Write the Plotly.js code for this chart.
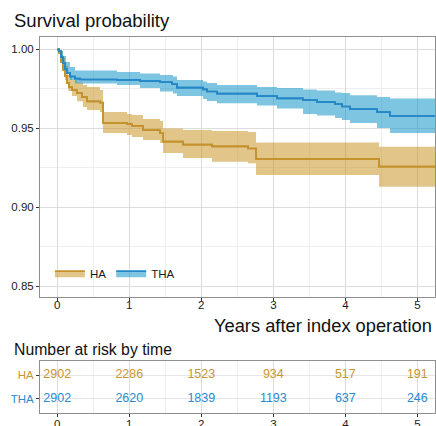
<!DOCTYPE html>
<html>
<head>
<meta charset="utf-8">
<script src="https://cdn.plot.ly/plotly-3.0.1.min.js"></script>
<style>html,body{margin:0;padding:0;background:#fff;}#chart{width:436px;height:426px;}</style>
</head>
<body>
<div id="chart"></div>
<script>
// ---- Data ----
const groups = ["HA", "THA"];

// HA survival step curve
const haTime = [0, 0.024, 0.051, 0.079, 0.107, 0.135, 0.163, 0.204, 0.274, 0.343, 0.413, 0.593, 0.635, 0.968, 1.038, 1.190, 1.426, 1.468, 1.746, 2.149, 2.649, 2.760, 4.468, 5.25];
const haSurv = [1.0, 0.9977, 0.9920, 0.9869, 0.9832, 0.9787, 0.9761, 0.9742, 0.9723, 0.9698, 0.9670, 0.9663, 0.9534, 0.9527, 0.9515, 0.9489, 0.9470, 0.9416, 0.9397, 0.9385, 0.9372, 0.9306, 0.9258, 0.9258];
// HA confidence band
const haBandTime = [0, 0.0375, 0.079, 0.107, 0.149, 0.204, 0.274, 0.357, 0.4125, 0.593, 0.635, 0.968, 1.038, 1.190, 1.426, 1.468, 1.746, 2.149, 2.649, 2.760, 4.468, 5.25];
const haUpper = [1.0, 0.9989, 0.9945, 0.9894, 0.9837, 0.9806, 0.9790, 0.9774, 0.9761, 0.9743, 0.9603, 0.9591, 0.9584, 0.9559, 0.9546, 0.9499, 0.9489, 0.9483, 0.9477, 0.9410, 0.9384, 0.9384];
const haLower = [1.0, 0.9951, 0.9869, 0.9806, 0.9736, 0.9704, 0.9672, 0.9635, 0.9616, 0.9603, 0.9470, 0.9458, 0.9445, 0.9426, 0.9407, 0.9344, 0.9312, 0.9289, 0.9279, 0.9204, 0.9130, 0.9130];

// THA survival step curve
const thaTime = [0, 0.024, 0.051, 0.079, 0.107, 0.135, 0.176, 0.246, 0.315, 0.829, 1.149, 1.426, 1.593, 1.662, 2.024, 2.079, 2.218, 2.774, 3.051, 3.413, 3.607, 3.857, 3.954, 4.065, 4.440, 4.621, 5.25];
const thaSurv = [1.0, 0.9989, 0.9951, 0.9913, 0.9875, 0.9850, 0.9828, 0.9815, 0.9809, 0.9806, 0.9799, 0.9793, 0.9780, 0.9758, 0.9746, 0.9733, 0.9720, 0.9704, 0.9689, 0.9679, 0.9666, 0.9654, 0.9638, 0.9622, 0.9603, 0.9578, 0.9578];
// THA confidence band
const thaBandTime = [0, 0.0375, 0.079, 0.121, 0.176, 0.246, 0.829, 1.149, 1.426, 1.607, 1.662, 2.024, 2.079, 2.218, 2.774, 3.051, 3.413, 3.607, 3.857, 3.954, 4.065, 4.440, 4.621, 5.25];
const thaUpper = [1.0, 0.9989, 0.9958, 0.9920, 0.9888, 0.9866, 0.9856, 0.9847, 0.9837, 0.9828, 0.9806, 0.9796, 0.9787, 0.9774, 0.9761, 0.9755, 0.9746, 0.9739, 0.9727, 0.9723, 0.9709, 0.9698, 0.9688, 0.9688];
const thaLower = [1.0, 0.9964, 0.9913, 0.9856, 0.9806, 0.9784, 0.9774, 0.9755, 0.9733, 0.9720, 0.9704, 0.9685, 0.9673, 0.9658, 0.9644, 0.9625, 0.9590, 0.9581, 0.9565, 0.9553, 0.9534, 0.9502, 0.9470, 0.9470];

// Number at risk table
const riskTimes = [0, 1, 2, 3, 4, 5];
const haRisk = [2902, 2286, 1523, 934, 517, 191];
const thaRisk = [2902, 2620, 1839, 1193, 637, 246];

const xTicks = [0, 1, 2, 3, 4, 5];
const yTicks = [0.85, 0.90, 0.95, 1.00];

// ---- Styles ----
const haLine = '#C4912D', haFill = 'rgba(200,150,40,0.55)', haText = '#C8952F';
const thaLine = '#2586C8', thaFill = 'rgba(20,150,200,0.55)', thaText = '#2A8AD0';
const FONT = 'Liberation Sans, Arial, Helvetica, sans-serif';

function bandTraces(name, bt, lo, up, t, s, lc, fc) {
  return [
    {x: bt, y: lo, mode: 'lines', line: {width: 0, shape: 'hv'}, showlegend: false, hoverinfo: 'skip', xaxis: 'x', yaxis: 'y'},
    {x: t, y: s, mode: 'lines', name: name, fill: 'tonexty', fillcolor: fc, line: {color: lc, width: 1.7, shape: 'hv'}, showlegend: true, xaxis: 'x', yaxis: 'y'},
    {x: bt, y: up, mode: 'lines', fill: 'tonexty', fillcolor: fc, line: {width: 0, shape: 'hv'}, showlegend: false, hoverinfo: 'skip', xaxis: 'x', yaxis: 'y'}
  ];
}

const traces = [].concat(
  bandTraces(groups[0], haBandTime, haLower, haUpper, haTime, haSurv, haLine, haFill),
  bandTraces(groups[1], thaBandTime, thaLower, thaUpper, thaTime, thaSurv, thaLine, thaFill),
  [
    {x: haTime, y: haSurv, mode: 'lines', line: {color: haLine, width: 1.7, shape: 'hv'}, showlegend: false, xaxis: 'x', yaxis: 'y'},
    {x: thaTime, y: thaSurv, mode: 'lines', line: {color: thaLine, width: 1.7, shape: 'hv'}, showlegend: false, xaxis: 'x', yaxis: 'y'},
    {x: riskTimes, y: riskTimes.map(() => 2), text: haRisk.map(String), mode: 'text', textposition: 'middle center',
     textfont: {family: FONT, size: 12.5, color: haText}, showlegend: false, xaxis: 'x2', yaxis: 'y2', cliponaxis: false},
    {x: riskTimes, y: riskTimes.map(() => 1), text: thaRisk.map(String), mode: 'text', textposition: 'middle center',
     textfont: {family: FONT, size: 12.5, color: thaText}, showlegend: false, xaxis: 'x2', yaxis: 'y2', cliponaxis: false}
  ]
);

const xRange = [-0.24, 5.245];
const axisCommon = {
  showline: true, mirror: true, linecolor: '#8f8f8f', linewidth: 1,
  ticks: 'outside', ticklen: 3, tickwidth: 1, tickcolor: '#333',
  tickfont: {family: FONT, size: 11.5, color: '#1a1a1a'},
  showgrid: true, gridcolor: '#dcdcdc', gridwidth: 1, zeroline: false, automargin: false, fixedrange: true
};

const layout = {
  width: 436, height: 426, autosize: false,
  margin: {l: 40, r: 1, t: 37, b: 13, pad: 0},
  paper_bgcolor: '#fff', plot_bgcolor: '#fff',
  font: {family: FONT, color: '#1a1a1a'},
  showlegend: true,
  legend: {orientation: 'h', x: 0.025, y: 0.372, xanchor: 'left', yanchor: 'middle',
           bgcolor: 'rgba(0,0,0,0)', font: {family: FONT, size: 11.5, color: '#1a1a1a'},
           itemwidth: 30, traceorder: 'normal', tracegroupgap: 0},
  xaxis: Object.assign({}, axisCommon, {domain: [0, 1], anchor: 'y', range: xRange, tickmode: 'array', tickvals: xTicks,
    ticklabelstandoff: -6,
    minor: {tickmode: 'linear', tick0: 0, dtick: 0.5, showgrid: true, gridcolor: '#eeeeee', ticks: ''}}),
  yaxis: Object.assign({}, axisCommon, {domain: [0.3085, 1], anchor: 'x', range: [0.8432, 1.0078], tickmode: 'array',
    tickvals: yTicks, tickformat: '.2f',
    minor: {tickmode: 'linear', tick0: 0.85, dtick: 0.025, showgrid: true, gridcolor: '#eeeeee', ticks: ''}}),
  xaxis2: Object.assign({}, axisCommon, {domain: [0, 1], anchor: 'y2', range: xRange, tickmode: 'array', tickvals: xTicks,
    ticklabelstandoff: -3,
    minor: {tickmode: 'linear', tick0: 0, dtick: 0.5, showgrid: true, gridcolor: '#eeeeee', ticks: ''}}),
  yaxis2: Object.assign({}, axisCommon, {domain: [0, 0.1383], anchor: 'x2', range: [0.4, 2.6], tickmode: 'array',
    tickvals: [2, 1],
    ticktext: ['<span style="color:' + haText + '">' + groups[0] + '</span>', '<span style="color:' + thaText + '">' + groups[1] + '</span>'],
    gridcolor: '#e6e6e6'}),
  annotations: [
    {text: 'Survival probability', xref: 'paper', yref: 'paper', x: -0.0709, y: 1.0426, xanchor: 'left', yanchor: 'middle',
     showarrow: false, font: {family: FONT, size: 18.5, color: '#111'}},
    {text: 'Years after index operation', xref: 'paper', yref: 'paper', x: 0.9975, y: 0.2314, xanchor: 'right', yanchor: 'middle',
     showarrow: false, font: {family: FONT, size: 18.3, color: '#111'}},
    {text: 'Number at risk by time', xref: 'paper', yref: 'paper', x: -0.0709, y: 0.1676, xanchor: 'left', yanchor: 'middle',
     showarrow: false, font: {family: FONT, size: 15.8, color: '#111'}}
  ]
};

Plotly.newPlot('chart', traces, layout, {displayModeBar: false, staticPlot: true});
</script>
</body>
</html>
